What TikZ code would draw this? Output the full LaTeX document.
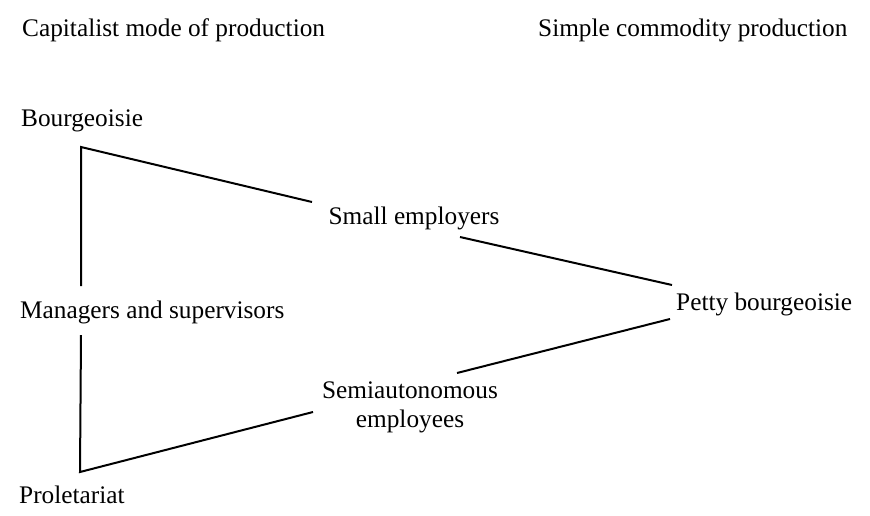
\documentclass[tikz,border=0pt]{standalone}
\usepackage{fontspec}
\setmainfont{Liberation Serif}
\begin{document}
\begin{tikzpicture}[x=1pt,y=-1pt,
  lbl/.style={inner sep=0pt,font=\fontsize{25.3}{29}\selectfont},
  conn/.style={line width=2pt,line join=miter}]
\useasboundingbox (0,0) rectangle (870,515);
% texts
\node[lbl,anchor=base west] (capt) at (22,36) {Capitalist mode of production};
\node[lbl,anchor=base west] (simp) at (538,36) {Simple commodity production};
\node[lbl,anchor=base west] (bourg) at (21,126) {Bourgeoisie};
\node[lbl,anchor=base west] (mgr) at (20,318) {Managers and supervisors};
\node[lbl,anchor=base west] (prol) at (19,503) {Proletariat};
\node[lbl,anchor=base] (small) at (414,224) {Small employers};
\node[lbl,anchor=base west] (petty) at (676,310) {Petty bourgeoisie};
\node[lbl,anchor=base,align=center] (semi) at (410,427) {Semiautonomous\\employees};
% connector end points
\coordinate (ctop) at (81,147);
\coordinate (cmgrT) at (81,286);
\coordinate (cmgrB) at (81,335);
\coordinate (cbot) at (80,472);
\coordinate (smallL) at (312,202);
\coordinate (smallR) at (460,237);
\coordinate (pettyT) at (672,285);
\coordinate (pettyB) at (670,319);
\coordinate (semiL) at (313,412);
\coordinate (semiR) at (457,373);
% connectors
\draw[conn] (cmgrT) -- (ctop) -- (smallL);
\draw[conn] (smallR) -- (pettyT);
\draw[conn] (cmgrB) -- (cbot) -- (semiL);
\draw[conn] (semiR) -- (pettyB);
\end{tikzpicture}
\end{document}
